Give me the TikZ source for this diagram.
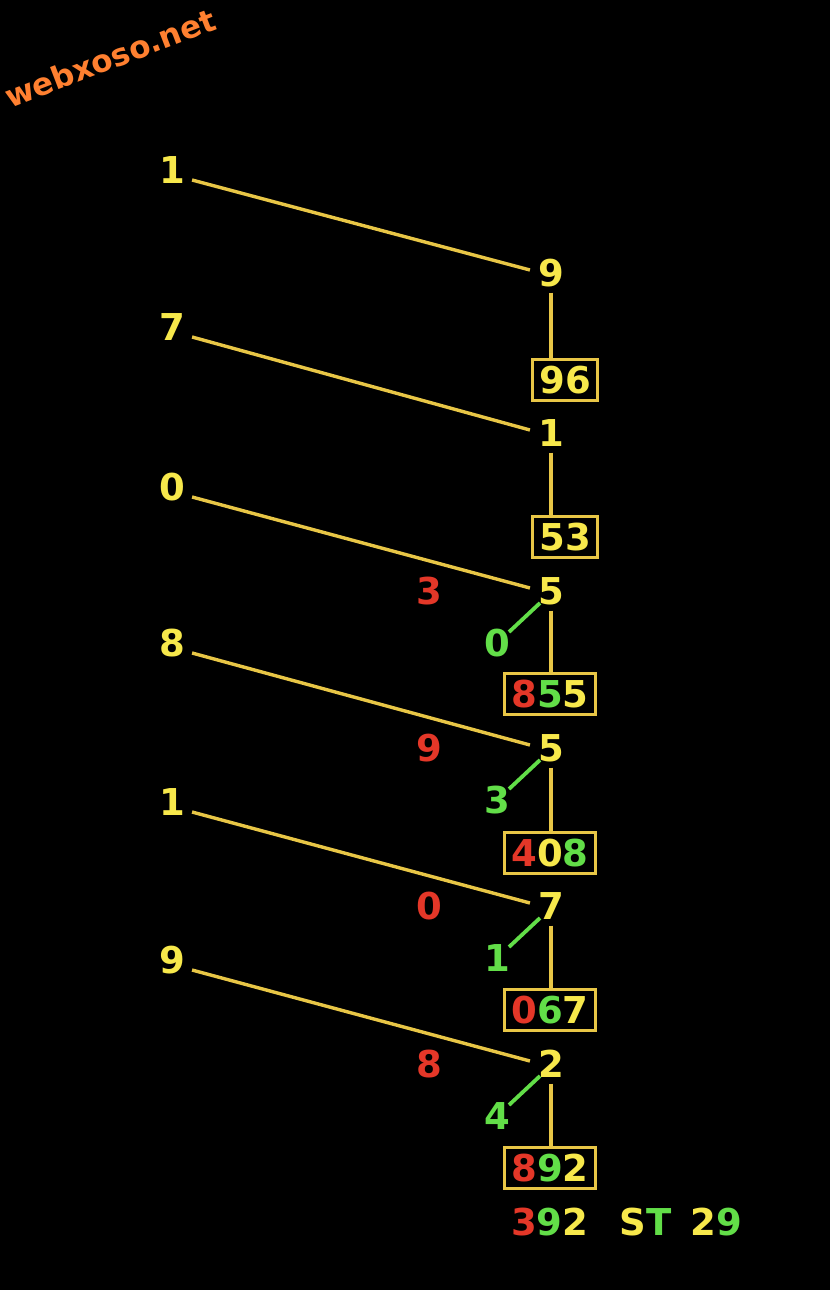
\documentclass[tikz,border=0pt]{standalone}
\usepackage{fontspec}
\setmainfont{DejaVu Sans}
\usetikzlibrary{calc}
\definecolor{ylw}{RGB}{247,232,75}
\definecolor{gold}{RGB}{232,198,70}
\definecolor{rd}{RGB}{228,55,40}
\definecolor{gr}{RGB}{98,222,72}
\definecolor{org}{RGB}{255,128,48}
\tikzset{
  dig/.style={font=\fontsize{37}{37}\selectfont\bfseries, inner sep=0pt, text height=27pt, text depth=0pt},
  ydig/.style={dig, text=ylw},
  rdig/.style={dig, text=rd},
  gdig/.style={dig, text=gr},
  boxnode/.style={dig, draw=gold, line width=3pt, inner xsep=6.5pt, minimum height=41pt},
  yline/.style={draw=gold, line width=3.4pt},
  gline/.style={draw=gr, line width=3.8pt}
}
\begin{document}
\begin{tikzpicture}[x=1pt,y=-1pt]
\fill[black] (0,0) rectangle (830,1290);
\useasboundingbox (0,0) rectangle (830,1290);
% watermark
\node[font=\fontsize{31}{31}\selectfont\bfseries, text=org, rotate=21, inner sep=0pt] (wm) at (110,58) {webxoso.net};
% left digits
\node[ydig] (L1) at (172,170) {1};
\node[ydig] (L2) at (172,327) {7};
\node[ydig] (L3) at (172,487) {0};
\node[ydig] (L4) at (172,643) {8};
\node[ydig] (L5) at (172,802) {1};
\node[ydig] (L6) at (172,960) {9};
% right digits
\node[ydig] (R1) at (551,273) {9};
\node[ydig] (R2) at (551,433) {1};
\node[ydig] (R3) at (551,591) {5};
\node[ydig] (R4) at (551,748) {5};
\node[ydig] (R5) at (551,906) {7};
\node[ydig] (R6) at (551,1064) {2};
% boxes
\node[boxnode] (B1) at (565,380) {\textcolor{ylw}{96}};
\node[boxnode] (B2) at (565,537) {\textcolor{ylw}{53}};
\node[boxnode] (B3) at (550,694) {\textcolor{rd}{8}\textcolor{gr}{5}\textcolor{ylw}{5}};
\node[boxnode] (B4) at (550,853) {\textcolor{rd}{4}\textcolor{ylw}{0}\textcolor{gr}{8}};
\node[boxnode] (B5) at (550,1010) {\textcolor{rd}{0}\textcolor{gr}{6}\textcolor{ylw}{7}};
\node[boxnode] (B6) at (550,1168) {\textcolor{rd}{8}\textcolor{gr}{9}\textcolor{ylw}{2}};
% red digits
\node[rdig] (D3) at (429,591) {3};
\node[rdig] (D4) at (429,748) {9};
\node[rdig] (D5) at (429,906) {0};
\node[rdig] (D6) at (429,1064) {8};
% green digits
\node[gdig] (G3) at (497,643) {0};
\node[gdig] (G4) at (497,800) {3};
\node[gdig] (G5) at (497,958) {1};
\node[gdig] (G6) at (497,1116) {4};
% bottom text
\node[dig, anchor=west] (res) at (511,1222) {\textcolor{rd}{3}\textcolor{gr}{9}\textcolor{ylw}{2}\hspace{0.85em}\textcolor{ylw}{S}\textcolor{gr}{T}\hspace{0.5em}\textcolor{ylw}{2}\textcolor{gr}{9}};
% slanted lines
\foreach \i in {1,...,6}{
  \draw[yline] ($(L\i.east)+(7,10)$) -- ($(R\i.west)+(-8,-3)$);
}
% vertical lines
\draw[yline] (R1.south) ++(0,6) -- (R1.south |- B1.north);
\draw[yline] (R2.south) ++(0,6) -- (R2.south |- B2.north);
\draw[yline] (R3.south) ++(0,6) -- (R3.south |- B3.north);
\draw[yline] (R4.south) ++(0,6) -- (R4.south |- B4.north);
\draw[yline] (R5.south) ++(0,6) -- (R5.south |- B5.north);
\draw[yline] (R6.south) ++(0,6) -- (R6.south |- B6.north);
% green lines
\foreach \i in {3,...,6}{
  \draw[gline] ($(R\i.center)+(-11,12)$) -- ($(G\i.center)+(12,-11)$);
}
\end{tikzpicture}
\end{document}
